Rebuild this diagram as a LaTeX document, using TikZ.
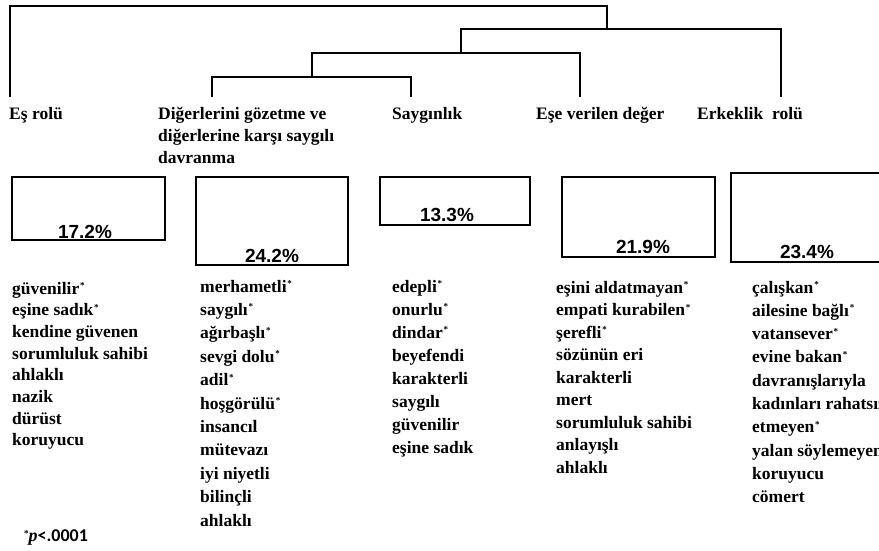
\documentclass[tikz,border=0pt]{standalone}
\usepackage{fontspec}
\setmainfont{Liberation Serif}
\newfontfamily\arialfont{Liberation Sans}
\newfontfamily\calfont{Carlito}
\newcommand\st{\kern0.8pt\raisebox{5.5pt}{\fontsize{9}{9}\selectfont *}}
\begin{document}
\begin{tikzpicture}[x=1pt,y=-1pt,
  lbl/.style={anchor=base west,inner sep=0pt,align=left,font=\fontsize{17.5}{22}\selectfont\bfseries},
  item/.style={anchor=base west,inner sep=0pt,font=\fontsize{17.5}{20}\selectfont\bfseries},
  pbox/.style={draw,line width=1.5pt,inner sep=0pt},
  pct/.style={inner sep=0pt,font=\arialfont\fontsize{19}{20}\selectfont\bfseries},
  link/.style={line width=1.5pt}]
\useasboundingbox (0,0) rectangle (879,550);
\clip (0,0) rectangle (879,550);
% dendrogram
\coordinate (a) at (10,97);
\coordinate (b) at (212,97);
\coordinate (c) at (411,97);
\coordinate (d) at (580,97);
\coordinate (e) at (781,97);
\coordinate (m1) at (312,77);
\coordinate (m2) at (461,53);
\coordinate (m3) at (607,29);
\coordinate (r) at (607,6);
\draw[link] (b) |- (m1) -| (c);
\draw[link] (m1) |- (m2) -| (d);
\draw[link] (m2) |- (m3) -| (e);
\draw[link] (a) |- (r) -- (m3);
% labels
\node[lbl] (l1) at (9,119) {Eş rolü};
\node[lbl] (l2) at (158,163) {Diğerlerini gözetme ve\\diğerlerine karşı saygılı\\davranma};
\node[lbl] (l3) at (392,119) {Saygınlık};
\node[lbl] (l4) at (536,119) {Eşe verilen değer};
\node[lbl] (l5) at (697,119) {Erkeklik\ \ rolü};
% boxes
\node[pbox,minimum width=153pt,minimum height=63pt] (b1) at (88.5,208.5) {};
\node[pbox,minimum width=152pt,minimum height=88pt] (b2) at (272,221) {};
\node[pbox,minimum width=150pt,minimum height=48pt] (b3) at (455,201) {};
\node[pbox,minimum width=153pt,minimum height=80pt] (b4) at (638.5,217) {};
\node[pbox,minimum width=154pt,minimum height=89pt] (b5) at (808,217.5) {};
\node[pct] (p1) at (85,232) {17.2\%};
\node[pct] (p2) at (272,256) {24.2\%};
\node[pct] (p3) at (447,215) {13.3\%};
\node[pct] (p4) at (643,247) {21.9\%};
\node[pct] (p5) at (807,252) {23.4\%};
% lists
\foreach \t [count=\i from 0] in {güvenilir\st,eşine sadık\st,kendine güvenen,sorumluluk sahibi,ahlaklı,nazik,dürüst,koruyucu}
  \node[item] (c1-\i) at (12,294+21.7*\i) {\t};
\foreach \t [count=\i from 0] in {merhametli\st,saygılı\st,ağırbaşlı\st,sevgi dolu\st,adil\st,hoşgörülü\st,insancıl,mütevazı,iyi niyetli,bilinçli,ahlaklı}
  \node[item] (c2-\i) at (200,292+23.4*\i) {\t};
\foreach \t [count=\i from 0] in {edepli\st,onurlu\st,dindar\st,beyefendi,karakterli,saygılı,güvenilir,eşine sadık}
  \node[item] (c3-\i) at (392,292+23*\i) {\t};
\foreach \t [count=\i from 0] in {eşini aldatmayan\st,empati kurabilen\st,şerefli\st,sözünün eri,karakterli,mert,sorumluluk sahibi,anlayışlı,ahlaklı}
  \node[item] (c4-\i) at (556,293+22.5*\i) {\t};
\foreach \t [count=\i from 0] in {çalışkan\st,ailesine bağlı\st,vatansever\st,evine bakan\st,davranışlarıyla,kadınları rahatsız,etmeyen\st,yalan söylemeyen,koruyucu,cömert}
  \node[item] (c5-\i) at (752,293+23.3*\i) {\t};
\node[anchor=base west,inner sep=0pt] (fn) at (24,541) {\bfseries\raisebox{5pt}{\fontsize{9}{9}\selectfont *}\fontsize{18}{20}\selectfont\textit{p}\calfont\fontsize{18}{20}\selectfont\bfseries<.0001};
\end{tikzpicture}
\end{document}
